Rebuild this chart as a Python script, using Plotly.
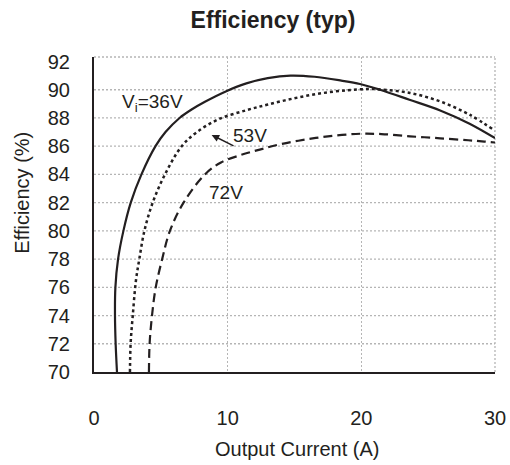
import plotly.graph_objects as go

# ---- data ----
x_36v = [1.72, 1.62, 1.57, 1.6, 1.8, 2.2, 2.75, 3.55, 4.6, 5.35, 6.4, 7.3, 8.3, 9.9, 11.4, 13.0, 14.7, 16.5, 18.5, 19.9, 21.4, 23.6, 25.9, 28.1, 30.0]
y_36v = [70.0, 72.0, 74.0, 76.0, 78.0, 80.0, 82.0, 84.0, 86.0, 87.0, 88.0, 88.6, 89.15, 89.9, 90.45, 90.82, 91.0, 90.92, 90.65, 90.41, 90.0, 89.29, 88.53, 87.59, 86.57]

x_53v = [2.69, 2.74, 2.9, 3.14, 3.39, 3.77, 4.39, 5.31, 6.56, 7.7, 9.3, 11.4, 13.0, 15.0, 17.0, 19.0, 20.5, 21.4, 23.64, 25.9, 28.1, 30.0]
y_53v = [70.0, 72.0, 74.0, 76.5, 78.0, 80.0, 82.0, 84.0, 86.0, 87.0, 87.9, 88.55, 88.95, 89.4, 89.75, 89.97, 90.05, 90.02, 89.77, 89.17, 88.23, 87.09]

x_72v = [4.11, 4.16, 4.34, 4.62, 5.1, 5.68, 6.7, 8.3, 9.5, 10.9, 12.4, 14.0, 16.0, 18.0, 19.9, 21.5, 23.64, 25.9, 28.0, 29.2, 30.0]
y_72v = [70.0, 72.0, 74.0, 76.0, 78.0, 80.0, 82.0, 84.0, 84.85, 85.35, 85.76, 86.15, 86.5, 86.75, 86.88, 86.86, 86.7, 86.56, 86.42, 86.33, 86.26]

x_ticks = [0, 10, 20, 30]
y_ticks = [70, 72, 74, 76, 78, 80, 82, 84, 86, 88, 90, 92]

FONT = "Liberation Sans, Arial, Helvetica, sans-serif"
INK = "#231f20"
GRID = "#b5b5b5"

W, H = 510, 465
L, T = 94, 57
R = W - 495
B = H - 371.7
pw, ph = W - L - R, H - T - B


def px_to_paper(px, py):
    return (px - L) / pw, (H - B - py) / ph


fig = go.Figure()
fig.add_trace(go.Scatter(x=x_36v, y=y_36v, mode="lines", line=dict(color=INK, width=2.2, shape="spline", smoothing=1.0), showlegend=False))
fig.add_trace(go.Scatter(x=x_53v, y=y_53v, mode="lines", line=dict(color=INK, width=2.5, dash="dot", shape="spline", smoothing=1.0), showlegend=False))
fig.add_trace(go.Scatter(x=x_72v, y=y_72v, mode="lines", line=dict(color=INK, width=2.2, dash="9px,5px", shape="spline", smoothing=1.0), showlegend=False))

shapes = []
for v in y_ticks[1:-1]:
    shapes.append(dict(type="line", xref="paper", x0=0, x1=1, yref="y", y0=v, y1=v,
                       line=dict(color=GRID, width=1.3, dash="2px,2px"), layer="below"))
shapes.append(dict(type="line", xref="paper", x0=0, x1=1, yref="paper", y0=1, y1=1,
                   line=dict(color=GRID, width=1.3, dash="2px,2px"), layer="below"))
shapes.append(dict(type="line", xref="paper", x0=1, x1=1, yref="paper", y0=0, y1=1,
                   line=dict(color=GRID, width=1.3, dash="2px,2px"), layer="below"))

yt_x, yt_y = px_to_paper(22, 192.5)
xt_x, xt_y = px_to_paper(297, 449)

annotations = [
    dict(x=4.34, y=89.08, xref="x", yref="y", text="V<sub>i</sub>=36V", showarrow=False,
         font=dict(family=FONT, size=19, color=INK)),
    dict(x=11.67, y=86.77, xref="x", yref="y", text="53V", showarrow=False,
         font=dict(family=FONT, size=19, color=INK)),
    dict(x=8.8, y=86.8, xref="x", yref="y", ax=10.55, ay=85.97, axref="x", ayref="y",
         text="", showarrow=True, arrowhead=2, arrowsize=1, arrowwidth=1.5, arrowcolor=INK),
    dict(x=9.87, y=82.69, xref="x", yref="y", text="72V", showarrow=False,
         font=dict(family=FONT, size=19, color=INK)),
    dict(x=yt_x, y=yt_y, xref="paper", yref="paper", text="Efficiency (%)",
         textangle=-90, showarrow=False, xanchor="center", yanchor="middle",
         font=dict(family=FONT, size=20, color=INK)),
    dict(x=xt_x, y=xt_y, xref="paper", yref="paper", text="Output Current (A)",
         showarrow=False, xanchor="center", yanchor="middle",
         font=dict(family=FONT, size=20, color=INK)),
]

fig.update_layout(
    width=W, height=H,
    margin=dict(l=L, r=R, t=T, b=B, autoexpand=False),
    paper_bgcolor="white", plot_bgcolor="white",
    font=dict(family=FONT, color=INK, size=20),
    title=dict(text="<b>Efficiency (typ)</b>", x=273 / W, xref="container", xanchor="center",
               y=1 - 20 / H, yref="container", yanchor="middle",
               font=dict(family=FONT, size=23, color=INK)),
    shapes=shapes,
    annotations=annotations,
)
fig.update_xaxes(range=[0, 30], tickvals=x_ticks, showgrid=True, gridcolor=GRID, gridwidth=1.3,
                 griddash="2px,2px", zeroline=False, showline=True, linecolor=INK, linewidth=2,
                 ticks="", ticklabelstandoff=27, ticklabeloverflow="allow", tickfont=dict(size=20),
                 automargin=False)
fig.update_yaxes(range=[70, 92.32], tickvals=y_ticks, showgrid=False, zeroline=False,
                 showline=True, linecolor=INK, linewidth=2, ticks="", ticklabelstandoff=18,
                 ticklabeloverflow="allow", tickfont=dict(size=20), automargin=False)

fig.write_html("out.html", config={"displayModeBar": False},
               post_script="document.body.style.margin='0';document.body.style.overflow='hidden';")
